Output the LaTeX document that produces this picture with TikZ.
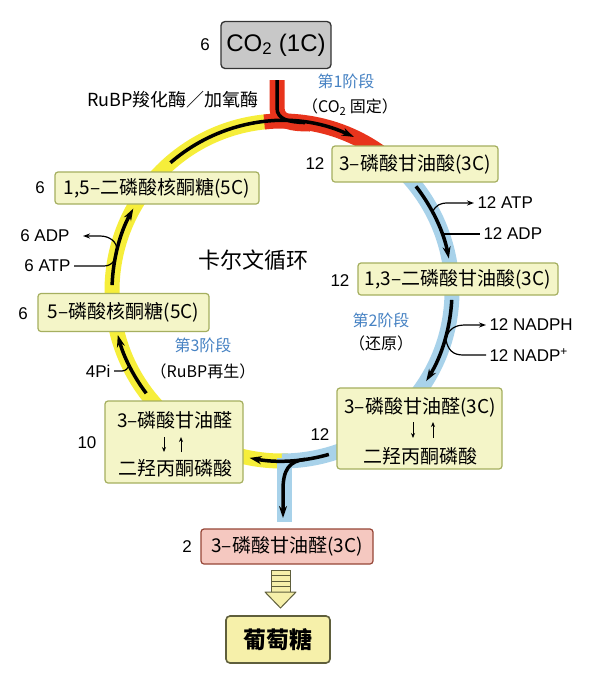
\documentclass[tikz,border=0pt]{standalone}
\usepackage{fontspec}
\setmainfont{Liberation Sans}
\newfontfamily\cjk{Noto Sans CJK SC}
\usetikzlibrary{arrows.meta}
\definecolor{bandY}{RGB}{246,238,58}
\definecolor{bandR}{RGB}{232,52,28}
\definecolor{bandB}{RGB}{168,210,234}
\definecolor{boxfill}{RGB}{244,245,200}
\definecolor{boxline}{RGB}{165,175,95}
\definecolor{stage}{RGB}{70,130,195}
\definecolor{pinkfill}{RGB}{245,200,192}
\definecolor{pinkline}{RGB}{150,70,55}
\definecolor{glufill}{RGB}{246,240,170}
\definecolor{gluline}{RGB}{95,95,60}
\definecolor{co2fill}{RGB}{200,200,200}
\begin{document}
\begin{tikzpicture}[x=1pt,y=-1pt,
  band/.style={line width=15pt},
  flow/.style={line width=3.5pt,-{Stealth[length=12pt,width=8pt]}},
  side/.style={line width=1.2pt},
  sidearr/.style={line width=1.2pt,-{Stealth[length=7pt,width=5pt]}},
  small/.style={line width=1pt,-{Stealth[length=5pt,width=4pt]}},
  box/.style={draw=boxline,fill=boxfill,line width=1.2pt,rounded corners=3pt,inner sep=0pt},
  btxt/.style={font=\cjk\fontsize{19}{21}\selectfont},
  num/.style={font=\fontsize{17}{19}\selectfont},
  stg/.style={font=\cjk\fontsize{16}{18}\selectfont,text=stage},
  sub/.style={font=\cjk\fontsize{16}{18}\selectfont}]
\fill[white] (0,0) rectangle (593,673);
\useasboundingbox (0,0) rectangle (593,673);
\coordinate (C) at (282,291);
% colored bands
\draw[band,bandY] ([shift={(88:170)}]C) arc[start angle=88,end angle=266,radius=170];
\draw[band,bandB] ([shift={(-50:170)}]C) arc[start angle=-50,end angle=90,radius=170];
\draw[band,bandB] (284,458) -- (284,522);
\draw[band,bandR] ([shift={(-96:170)}]C) arc[start angle=-96,end angle=-48,radius=170];
\draw[band,bandR] (277,80) -- (277,108) .. controls (277,122) and (292,124) .. (310,124);
% main flow arrows
\coordinate (co2out) at (277,80);
\coordinate (co2join) at (305,122.6);
\draw[line width=3.5pt] (co2out) -- (277,108) .. controls (277,120) and (290,122) .. (co2join);
\draw[flow] ([shift={(229:170)}]C) arc[start angle=229,end angle=295,radius=170];
\draw[flow] ([shift={(182:170)}]C) arc[start angle=182,end angle=209,radius=170];
\draw[flow] ([shift={(143:170)}]C) arc[start angle=143,end angle=165,radius=170];
\draw[flow] ([shift={(-38:170)}]C) arc[start angle=-38,end angle=-11,radius=170];
\draw[flow] ([shift={(3:170)}]C) arc[start angle=3,end angle=32,radius=170];
\draw[flow] ([shift={(74:170)}]C) arc[start angle=74,end angle=101,radius=170];
\coordinate (brk) at (305,459.4);
\coordinate (outtip) at (283,518);
\draw[flow] (brk) .. controls (289,461) and (283,470) .. (283,490) -- (outtip);
% side reactions
\node[num,anchor=west] (atpR) at (474,203) {12 ATP};
\node[num,anchor=west] (adpR) at (480,234) {12 ADP};
\node[num,anchor=west] (nadph) at (486,325) {12 NADPH};
\node[num,anchor=west] (nadp) at (486,355) {12 NADP\textsuperscript{+}};
\node[num,anchor=east] (adpL) at (73,236) {6 ADP};
\node[num,anchor=east] (atpL) at (74,266) {6 ATP};
\node[num,anchor=east] (pi) at (114,371) {4Pi};
\draw[sidearr] (432.5,212) .. controls (436,205) and (440,203) .. (448,203) -- (atpR.west);
\draw[side] (442,234) -- (adpR.west);
\draw[sidearr] (446,338) .. controls (449,329) and (455,325) .. (465,325) -- (nadph.west);
\draw[side] (446,340) .. controls (448,350) and (453,355) .. (463,355) -- (nadp.west);
\draw[sidearr] (atpL.east) -- (104,266) .. controls (113,266) and (117,258) .. (117,250)
   .. controls (117,242) and (110,236) .. (100,236) -- ([xshift=10pt]adpL.east);
\draw[side] (pi.east) -- (122,371) .. controls (126,371) and (128,368) .. (129.5,364.5);
% CO2 box
\node[draw=black!80,fill=co2fill,line width=1.3pt,rounded corners=4pt,minimum width=110,minimum height=47,
  font=\fontsize{24}{26}\selectfont] (co2) at (276,45) {CO\textsubscript{2} (1C)};
\node[num] (n0) at (205,45) {6};
% boxes
\node[box,minimum width=166,minimum height=36,btxt] (pga) at (415,164) {3–磷酸甘油酸(3C)};
\node[num] (n1) at (315,164) {12};
\node[box,minimum width=200,minimum height=32,btxt] (bpg) at (458,279) {1,3–二磷酸甘油酸(3C)};
\node[num] (n2) at (340,281) {12};
\node[box,minimum width=204,minimum height=32,btxt] (rubp) at (157,188) {1,5–二磷酸核酮糖(5C)};
\node[num] (n3) at (40,188) {6};
\node[box,minimum width=171,minimum height=38,btxt] (ru5p) at (123.5,312.5) {5–磷酸核酮糖(5C)};
\node[num] (n4) at (23,314) {6};
\node[box,minimum width=138,minimum height=82] (g3pL) at (174,442) {};
\node[btxt] (g3pLa) at (175,420) {3–磷酸甘油醛};
\node[btxt] (g3pLb) at (175,468) {二羟丙酮磷酸};
\draw[small] (164,437) -- (164,452);
\draw[small] (181,452) -- (181,437);
\node[num] (n5) at (87,443) {10};
\node[box,minimum width=165,minimum height=81] (g3pR) at (419.5,428.5) {};
\node[btxt] (g3pRa) at (420,407) {3–磷酸甘油醛(3C)};
\node[btxt] (g3pRb) at (420,456) {二羟丙酮磷酸};
\draw[small] (413,422) -- (413,438);
\draw[small] (433,438) -- (433,422);
\node[num] (n6) at (320,435) {12};
\node[draw=pinkline,fill=pinkfill,line width=1.2pt,rounded corners=3pt,inner sep=0pt,
  minimum width=172,minimum height=35,btxt] (out) at (287,546.5) {3–磷酸甘油醛(3C)};
\node[num] (n7) at (187,547) {2};
% hollow arrow
\draw[fill=glufill,draw=gluline,line width=1pt] (271,570) rectangle (290,592);
\foreach \yy in {575.5,581,586.5} \draw[gluline,line width=1pt] (271,\yy) -- (290,\yy);
\draw[fill=glufill,draw=gluline,line width=1pt,line join=round] (265,592) -- (296,592) -- (280.5,608) -- cycle;
\node[draw=gluline,fill=glufill,line width=1.6pt,rounded corners=4pt,inner sep=0pt,
  minimum width=104,minimum height=47,font=\cjk\bfseries\fontsize{23}{25}\selectfont] (glu) at (278,639.5) {葡萄糖};
% labels
\node[font=\cjk\fontsize{18}{20}\selectfont] (enz) at (173,100) {RuBP羧化酶／加氧酶};
\node[stg] (s1) at (346,81) {第1阶段};
\node[sub] (s1b) at (350,107) {（CO\textsubscript{2} 固定）};
\node[font=\cjk\fontsize{22}{24}\selectfont] (calvin) at (253,260) {卡尔文循环};
\node[stg] (s2) at (381,320) {第2阶段};
\node[sub] (s2b) at (381,343) {（还原）};
\node[stg] (s3) at (203,345) {第3阶段};
\node[sub] (s3b) at (203,371) {（RuBP再生）};
\end{tikzpicture}
\end{document}
